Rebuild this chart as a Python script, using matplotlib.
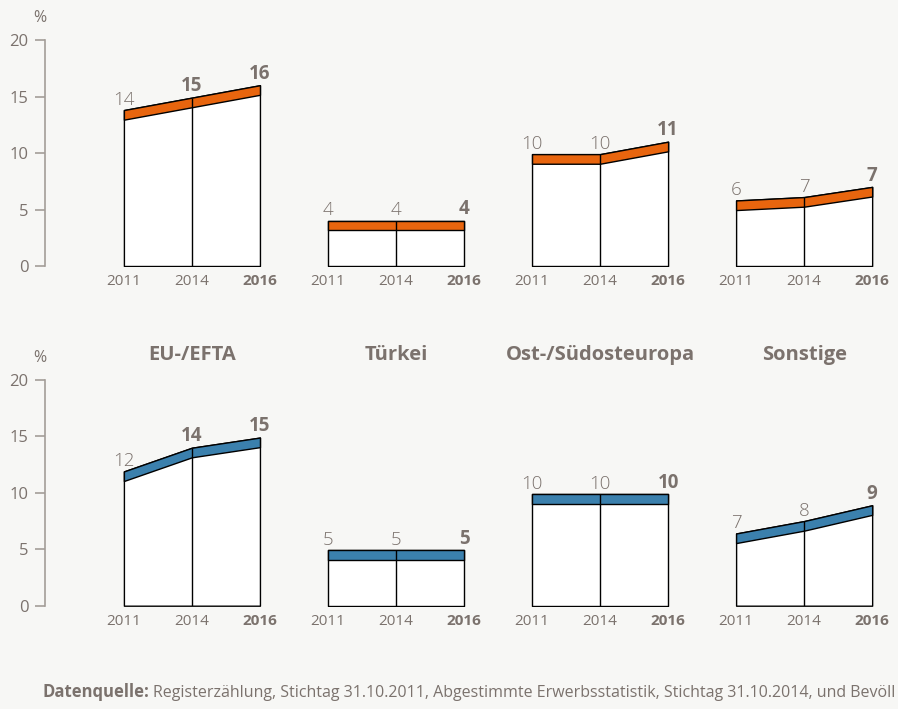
import matplotlib.pyplot as plt

# Datenpunkte je Gruppe (2011, 2014, 2016), gelesen aus der Grafik
years = ["2011", "2014", "2016"]
groups = ["EU-/EFTA", "Türkei", "Ost-/Südosteuropa", "Sonstige"]

top_heights = [[13.8, 14.9, 16.0], [4.0, 4.0, 4.0], [9.9, 9.9, 11.0], [5.8, 6.1, 7.0]]
top_labels = [["14", "15", "16"], ["4", "4", "4"], ["10", "10", "11"], ["6", "7", "7"]]
top_bold = [[0, 1, 1], [0, 0, 1], [0, 0, 1], [0, 0, 1]]

bottom_heights = [[11.9, 14.0, 14.9], [4.9, 4.9, 4.9], [9.9, 9.9, 9.9], [6.4, 7.5, 8.9]]
bottom_labels = [["12", "14", "15"], ["5", "5", "5"], ["10", "10", "10"], ["7", "8", "9"]]
bottom_bold = [[0, 1, 1], [0, 0, 1], [0, 0, 1], [0, 0, 1]]

bg = "#f7f7f5"
txt = "#7b726d"
spine_col = "#a39d98"
orange = "#e8650e"
blue = "#3b80ad"
band = 0.85

plt.rcParams["font.family"] = ["Open Sans", "DejaVu Sans"]

fig = plt.figure(figsize=(8.98, 7.09), dpi=100, facecolor=bg)
W, H = 898, 709


def make_ax(y0_px, y20_px):
    left = 45 / W
    ax = fig.add_axes([left, 1 - y0_px / H, 1 - left, (y0_px - y20_px) / H])
    ax.set_facecolor(bg)
    ax.patch.set_alpha(0)
    return ax


def draw_row(ax, heights, labels, bold, color):
    xs_all, xl_all = [], []
    for g, (h, lab, b) in enumerate(zip(heights, labels, bold)):
        xs = [3 * g + i for i in range(3)]
        lower = [v - band for v in h]
        ax.fill_between(xs, 0, h, facecolor="white", edgecolor="black", linewidth=1.0, zorder=2)
        ax.fill_between(xs, lower, h, facecolor=color, edgecolor="black", linewidth=1.0, zorder=3)
        ax.vlines(xs[1], 0, h[1], color="black", linewidth=1.0, zorder=4)
        for x, v, t, bb in zip(xs, h, lab, b):
            ax.annotate(t, (x, v), xytext=(0, 1), textcoords="offset points",
                        ha="center", va="bottom", color=txt, fontsize=13.5,
                        fontweight="bold" if bb else "light")
        xs_all += xs
        xl_all += years
    ax.set_xlim(-1.16, 11.38)
    ax.set_ylim(0, 20)
    ax.set_xticks(xs_all)
    ax.set_xticklabels(xl_all)
    for i, tl in enumerate(ax.get_xticklabels()):
        tl.set_color(txt)
        tl.set_fontsize(11)
        if i % 3 == 2:
            tl.set_fontweight("bold")
    ax.tick_params(axis="x", length=0, pad=6)
    ax.set_yticks([0, 5, 10, 15, 20])
    ax.tick_params(axis="y", colors=spine_col, labelcolor=txt, labelsize=12, length=7, width=1.2, pad=5)
    for s in ["top", "right", "bottom"]:
        ax.spines[s].set_visible(False)
    ax.spines["left"].set_color(spine_col)
    ax.spines["left"].set_linewidth(1.2)
    ax.text(-0.006, 1.06, "%", transform=ax.transAxes, ha="center", va="bottom",
            color=txt, fontsize=11.5)


ax1 = make_ax(266, 40)
draw_row(ax1, top_heights, top_labels, top_bold, orange)

ax2 = make_ax(605.7, 380)
draw_row(ax2, bottom_heights, bottom_labels, bottom_bold, blue)

for g, name in enumerate(groups):
    xd = 3 * g + 1
    xfig = ax2.transData.transform((xd, 0))[0] / W
    fig.text(xfig, 1 - 355 / H, name, ha="center", va="center", color=txt,
             fontsize=14.5, fontweight="bold")

fig.text(43 / W, 1 - 697 / H, "Datenquelle:", ha="left", va="baseline",
         color=txt, fontsize=12, fontweight="bold")
fig.text(153 / W, 1 - 697 / H,
         "Registerzählung, Stichtag 31.10.2011, Abgestimmte Erwerbsstatistik, Stichtag 31.10.2014, und Bevöll",
         ha="left", va="baseline", color=txt, fontsize=11.5)

fig.savefig("out.png", dpi=100, facecolor=bg)
